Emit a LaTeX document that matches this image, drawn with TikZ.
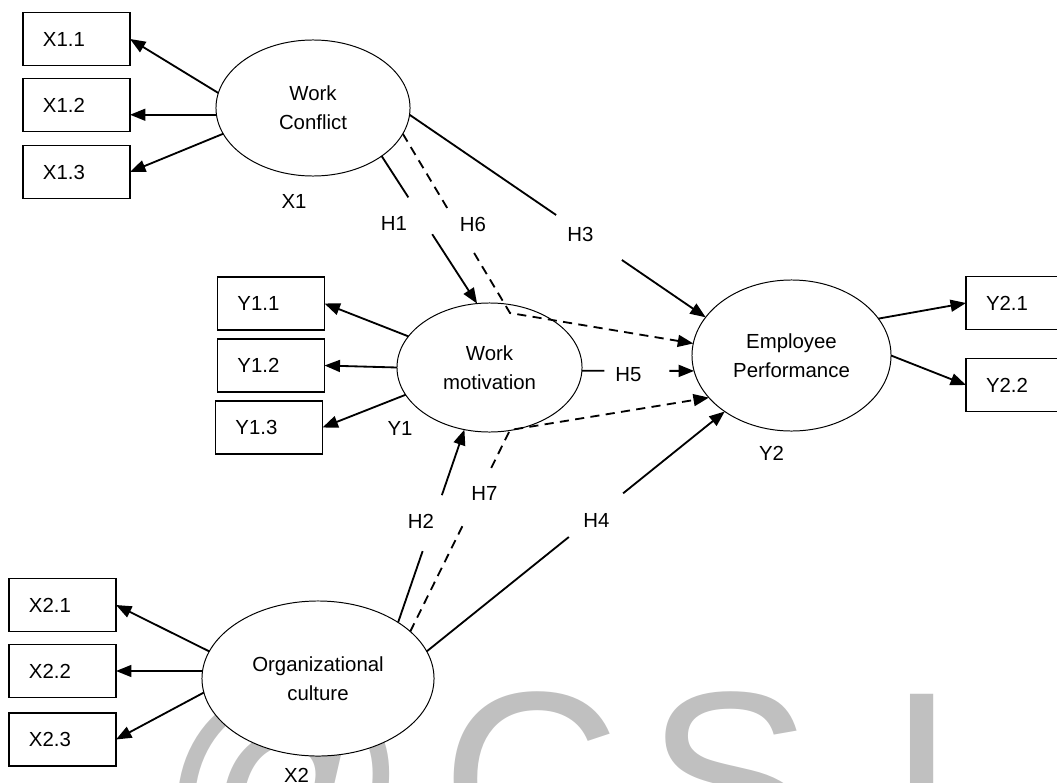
\documentclass[tikz,border=0pt]{standalone}
\usepackage{fontspec}
\setmainfont{Liberation Sans}
\usetikzlibrary{arrows.meta,calc,shapes.geometric}
\definecolor{ink}{HTML}{000000}
\definecolor{wmgray}{HTML}{C0C0C0}

\begin{document}
\begin{tikzpicture}[x=0.025cm,y=-0.025cm,>={Triangle[length=11pt,width=8.5pt]},
  font=\fontsize{14.5}{20.5}\selectfont,line join=miter,
  latent/.style={ellipse,draw=ink,line width=0.7pt,fill=white,inner sep=0pt,
    outer sep=0pt,align=center},
  indicator/.style={rectangle,draw=ink,line width=1pt,fill=white,
    minimum height=1.325cm,text width=1.675cm,inner xsep=0.5cm,inner ysep=0pt,
    outer sep=0pt,align=left},
  link/.style={ink,line width=1.3pt},
  mediated/.style={link,dash pattern=on 6.5pt off 4.5pt},
  hlabel/.style={inner sep=0pt},
  wmark/.style={wmgray,font=\fontsize{177}{177}\selectfont,anchor=base,inner sep=0pt}]
  \useasboundingbox (0,0) rectangle (1057,782);

  % Watermark behind everything
  \foreach \ch/\xx [count=\i] in {@/285,C/531,S/729,I/922}
    \node[wmark] (wmk\i) at (\xx,865) {\ch};

  % Latent variables
  \node[latent,minimum width=4.85cm,minimum height=3.4cm] (wc) at (313,108) {Work\\Conflict};
  \node[latent,minimum width=4.625cm,minimum height=3.225cm] (wm) at (489.5,367.5) {Work\\motivation};
  \node[latent,minimum width=4.975cm,minimum height=3.775cm] (ep) at (791.5,355.5) {Employee\\Performance};
  \node[latent,minimum width=5.8cm,minimum height=3.875cm] (oc) at (318,678.5) {Organizational\\culture};
  \node[hlabel] (lx1) at (294,201.5) {X1};
  \node[hlabel] (ly1) at (400,428) {Y1};
  \node[hlabel] (ly2) at (771.5,453.5) {Y2};
  \node[hlabel] (lx2) at (296.5,775) {X2};

  % Indicators
  \foreach \k/\yy in {1/39,2/105,3/172}
    \node[indicator] (x1\k) at (76.5,\yy) {X1.\k};
  \foreach \k/\xx/\yy in {1/271/303.5,2/271/365.5,3/269/427.5}
    \node[indicator] (y1\k) at (\xx,\yy) {Y1.\k};
  \foreach \k/\yy in {1/303,2/385}
    \node[indicator] (y2\k) at (1019.5,\yy) {Y2.\k};
  \foreach \k/\yy in {1/605,2/671,3/739.5}
    \node[indicator] (x2\k) at (62.5,\yy) {X2.\k};

  % Loadings
  \draw[link,->] (wc.171) -- (x11.east);
  \draw[link,->] (wc.184) -- (wc.184 -| x12.east);
  \draw[link,->] (wc.196) -- (x13.east);
  \draw[link,->] (wm.159) -- (y11.east);
  \draw[link,->] (wm.west) -- (y12.east);
  \draw[link,->] (wm.198) -- (y13.east);
  \draw[link,->] (ep.23) -- (y21.west);
  \draw[link,->] (ep.east) -- (y22.west);
  \draw[link,->] (oc.166) -- (x21.east);
  \draw[link,->] (oc.west |- x22.east) -- (x22.east);
  \draw[link,->] (oc.187) -- (x23.east);

  % Direct hypotheses, broken round their labels
  \foreach \src/\dst/\ta/\tb/\hx/\hy/\hlab in {
      wc.-35/wm.101/0.28/0.53/394/223.5/H1,
      oc.35/wm.248/0.37/0.66/421/521.5/H2,
      wc.-4/ep.156/0.495/0.717/580.5/234.5/H3,
      oc.14/ep.220/0.477/0.659/596.5/520/H4,
      wm.-2/ep.189/0.2/0.78/628.5/374.5/H5}{
    \draw[link] (\src) -- ($(\src)!\ta!(\dst)$);
    \draw[link,->] ($(\src)!\tb!(\dst)$) -- (\dst);
    \node[hlabel] (\hlab) at (\hx,\hy) {\hlab};
  }

  % Mediated hypotheses through work motivation
  \coordinate (h6c) at (510,313);
  \draw[mediated] (wc.-16) -- ($(wc.-16)!0.425!(h6c)$);
  \draw[mediated,->] ($(wc.-16)!0.665!(h6c)$) -- (h6c) -- (ep.173);
  \node[hlabel] (H6) at (473,224) {H6};
  \coordinate (h7c) at (510,430);
  \draw[mediated] (oc.27) -- ($(oc.27)!0.524!(h7c)$);
  \draw[mediated,->] ($(oc.27)!0.812!(h7c)$) -- (h7c) -- (ep.207);
  \node[hlabel] (H7) at (484.5,493.5) {H7};
\end{tikzpicture}
\end{document}
